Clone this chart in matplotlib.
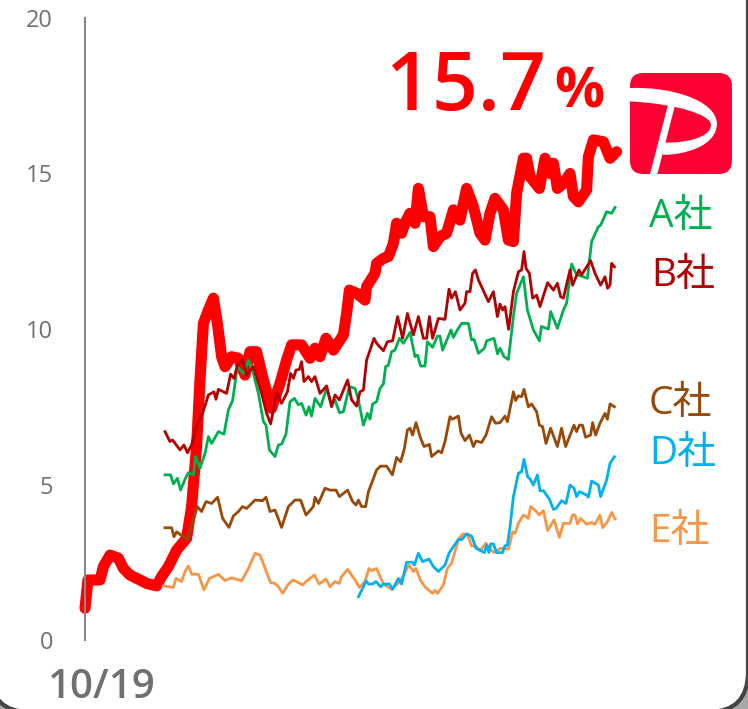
# share_chart.py
import matplotlib.pyplot as plt
from matplotlib.patches import FancyBboxPatch, PathPatch, Polygon
from matplotlib.path import Path

red_days = [0, 1.5, 7.5, 9.2, 12.5, 16.7, 19.2, 22.5, 27.5, 30.8, 35.8, 38.3, 41.7, 45.8, 50.8, 53.3, 55.8, 57.5, 59.2,
            61.7, 64.2, 66.2, 68.3, 70, 73.3, 76.7, 80, 82.5, 85.8, 89.2, 93.3, 95.8, 97.5, 100.8, 103.3, 108.3, 112.5,
            115, 117.5, 120.5, 124.2, 129.2, 130.8, 132.2, 135.8, 140, 140.8, 145, 145.8, 149.2, 151.7, 154.2, 155.8,
            158.3, 160, 162.5, 165, 166.7, 169.2, 172.5, 174.2, 177.5, 180.8, 184.2, 187.5, 190.8, 194.2, 197.5, 200,
            202.5, 205, 209.2, 211.7, 214.2, 215.8, 219.2, 220.8, 222.5, 227.2, 230, 232.5, 234.2, 236.2, 239.2, 242.5,
            244.2, 246.7, 250.8, 251.7, 254.2, 259.2, 262.5, 265.8]
red_vals = [1.02, 1.93, 1.93, 2.36, 2.73, 2.63, 2.30, 2.09, 1.93, 1.82, 1.74, 2.04, 2.36, 2.89, 3.27, 4.29, 6.22, 8.36, 10.18,
            10.61, 10.99, 10.18, 9.11, 8.79, 9.11, 9.06, 8.52, 9.27, 9.27, 8.36, 7.45, 7.93, 8.25, 9.0, 9.49, 9.49, 9.06,
            9.38, 9.11, 9.7, 9.32, 9.81, 10.5, 11.25, 11.15, 10.93, 11.36, 11.79, 12.11, 12.27, 12.33, 12.75, 13.4,
            13.08, 13.4, 13.72, 13.4, 14.52, 13.61, 13.61, 12.65, 12.97, 13.08, 13.83, 13.5, 14.52, 13.93, 13.08, 12.86,
            13.72, 14.2, 13.83, 12.86, 12.81, 14.36, 15.49, 15.49, 14.9, 14.52, 15.49, 15.0, 15.33, 14.52, 14.68, 15.0,
            14.26, 14.09, 14.47, 15.54, 16.08, 16.02, 15.49, 15.7]

a_days = [40, 42.8, 44.2, 46.2, 47.8, 50, 51.7, 54.2, 55.3, 57.5, 60, 61.7, 63.3, 66.7, 69.5, 71.7, 73.8, 76.2, 79.2, 81.7,
          84.2, 86.7, 89.2, 90.5, 92.2, 95, 96.7, 98.3, 100.5, 102.5, 104.7, 106.7, 108.3, 110.5, 112, 113.3, 115, 117.8,
          120.8, 123.3, 125, 127.2, 129.2, 132.2, 135, 136.7, 139.2, 141.2, 142.5, 143.8, 145.8, 147.5, 149.2, 150.3,
          151.7, 153.3, 155, 157.2, 159.2, 162.5, 165, 166.3, 167.8, 170, 171.2, 173.8, 176.2, 177.5, 178.8, 183, 184.2,
          186.2, 188.3, 191.7, 193.3, 194.5, 196.7, 199.7, 200.8, 204.5, 206.3, 207.5, 209.5, 211.7, 214.2, 215.8, 219.2,
          221.2, 224.2, 227.2, 228.2, 231.7, 232.8, 236.2, 239.2, 240.8, 243.3, 245.8, 248.3, 251.2, 253.3, 256.7, 257.8,
          260.8, 263.3, 265]
a_vals = [5.31, 5.31, 5.02, 5.2, 4.82, 5.17, 5.38, 5.31, 5.9, 5.52, 6.0, 6.54, 6.32, 6.7, 6.62, 7.4, 7.7, 8.79, 8.57, 9.0,
          8.57, 7.93, 7.02, 6.91, 6.11, 5.9, 6.27, 6.3, 6.62, 7.66, 7.77, 7.56, 7.61, 7.23, 7.5, 7.2, 7.77, 7.5,
          8.09, 7.56, 7.72, 7.31, 7.34, 8.15, 8.09, 7.72, 6.91, 7.29, 7.1, 7.59, 7.66, 8.09, 8.23, 8.79,
          8.84, 9.27, 9.32, 9.7, 9.54, 9.89, 9.11, 9.16, 8.81, 8.81, 9.59, 9.41, 9.77, 9.77, 9.32, 9.97, 9.73,
          9.97, 10.18, 10.18, 9.65, 9.67, 9.22, 9.38, 9.62, 9.7, 9.2, 9.38, 9.11, 9.02, 10.4, 11.15, 11.68,
          10.61, 9.97, 9.62, 10.08, 10.0, 10.56, 10.02, 10.61, 10.83, 12.09, 11.74, 11.7, 11.63, 12.81, 13.29, 13.34,
          13.77, 13.72, 13.91]

b_days = [40, 42.5, 43.8, 47.5, 49.5, 51.2, 53.3, 55.8, 58.8, 61.7, 64.5, 65.5, 66.7, 70.8, 72.8, 74.5, 76.2, 78.8, 80.8,
          84.2, 88.3, 90.8, 92.8, 94.2, 95.8, 98.3, 101.2, 102.8, 104.2, 105.5, 107.2, 108.3, 109.5, 111.7, 113.3, 115,
          117.5, 120.8, 123.3, 125, 127.2, 131.3, 133.3, 135.8, 137.5, 139.2, 140.8, 142.5, 144.5, 145.8, 149.2, 151.2,
          153.8, 156.3, 158.8, 161.2, 164.2, 166.7, 169.2, 170.8, 172.2, 173.8, 176.7, 180, 182, 183.3, 185.2, 187.5,
          190, 190.8, 192.5, 193.8, 195.2, 196.7, 201.7, 204.2, 206.2, 207.5, 208.8, 210, 211.8, 214.2, 216.7, 218.3,
          219.5, 220.5, 222.2, 223.8, 225.8, 227.5, 231.3, 234.2, 236.2, 237.8, 239.2, 242.5, 243.8, 247, 248.3, 252.8,
          255, 257.8, 260, 261.3, 262.5, 263.3, 264.7]
b_vals = [6.7, 6.38, 6.43, 6.11, 6.27, 6.02, 6.27, 6.91, 7.29, 7.88, 7.98, 7.74, 8.06, 7.93, 8.55, 8.41, 8.84, 9.0, 8.52,
          8.79, 7.93, 7.29, 6.95, 7.4, 7.98, 7.61, 7.98, 8.57, 8.41, 8.68, 8.7, 8.95, 8.31, 8.47, 8.31, 8.47,
          7.93, 8.17, 7.5, 7.88, 7.72, 8.36, 7.72, 7.52, 7.98, 8.04, 9.0, 9.32, 9.7, 9.54, 9.3, 9.59,
          9.62, 10.4, 9.7, 10.5, 9.81, 10.4, 9.7, 9.7, 10.4, 9.7, 10.34, 10.31, 11.28, 10.99, 11.2, 10.61,
          10.83, 11.2, 11.2, 11.79, 11.9, 11.58, 10.88, 11.2, 10.4, 10.8, 10.61, 10.72, 9.99, 11.2, 11.84, 11.9,
          12.49, 11.95, 11.79, 10.99, 11.09, 10.72, 11.49, 11.25, 11.47, 11.04, 10.99, 11.9, 11.41, 11.9, 11.74, 12.2,
          11.79, 11.41, 11.68, 11.31, 11.41, 12.11, 12.0]

c_days = [40, 43.3, 44.5, 45.8, 51.2, 53.3, 56.2, 58.3, 60.5, 63.3, 66.3, 68.8, 72, 74.2, 76.7, 78.7, 80.8, 85, 88.8, 90.5,
          92.5, 95, 98.3, 101.7, 105, 107.8, 110.5, 114.2, 115, 116.7, 120, 122.5, 125.5, 127.2, 131.3, 133.8, 135.5,
          136.7, 138.3, 140.3, 141.7, 143.8, 145.8, 147.8, 150.8, 153.7, 155.8, 157.8, 159.7, 161.2, 162.5, 163.8, 165.5,
          167.5, 169.5, 172.2, 173.3, 176.7, 178.3, 180, 182.5, 183.7, 186.7, 188, 190, 192.2, 194.2, 195.5, 198.3, 200.5,
          203.3, 205.3, 207.5, 210, 211.2, 214.2, 215.3, 216.7, 218.3, 219.5, 221.7, 223.3, 225.8, 227.2, 228.8, 230.5,
          232.8, 236.2, 238.3, 240.3, 244.5, 245.8, 247.2, 248.7, 250.3, 252.8, 253.8, 255.3, 257.5, 260, 261.2, 262.5,
          264.7]
c_vals = [3.61, 3.61, 3.32, 3.48, 3.22, 3.67, 4.29, 4.13, 4.45, 4.39, 4.59, 3.91, 3.62, 3.99, 4.13, 4.29, 4.23, 4.5, 4.48, 4.59,
          4.13, 4.18, 3.62, 4.29, 4.5, 4.5, 4.02, 4.29, 4.59, 4.39, 4.88, 4.82, 4.82, 4.61, 4.82, 4.45, 4.34,
          4.5, 4.29, 4.29, 4.77, 5.12, 5.47, 5.59, 5.59, 5.31, 5.87, 5.73, 6.16, 6.75, 6.81, 6.59, 6.99,
          6.54, 6.22, 6.29, 5.9, 6.08, 6.02, 6.38, 7.18, 7.1, 7.2, 6.65, 6.41, 6.59, 6.22, 6.4, 6.35, 6.59,
          7.18, 6.97, 6.99, 7.2, 7.02, 7.98, 7.7, 7.85, 7.82, 8.06, 7.5, 7.59, 7.34, 6.91, 6.86, 6.32,
          6.81, 6.22, 6.81, 6.22, 6.91, 6.7, 6.91, 6.91, 6.52, 6.59, 6.99, 6.59, 6.97, 7.29, 7.1, 7.59,
          7.5]

d_days = [136.7, 138.8, 140.5, 141.7, 143.8, 145.5, 147.8, 149.2, 152.2, 153.8, 156.7, 158.3, 160.8, 163.7, 164.7, 166.7,
          168.8, 172, 174.2, 176.7, 180, 182, 186.7, 188.3, 190.8, 193.3, 195.5, 197.5, 199.7, 200.8, 202, 202.8, 204.2,
          205.8, 208.7, 210, 211.2, 212.5, 214.2, 216.7, 218.3, 219.5, 221.3, 222.5, 224.2, 226.2, 227.5, 229.2, 232.2,
          234.2, 235.5, 238.3, 240.5, 242.5, 244.5, 245.8, 247.2, 250.8, 251.7, 253.3, 256.7, 257.8, 260.8, 262.5, 264.7]
d_vals = [1.39, 1.66, 1.9, 1.8, 1.8, 1.88, 1.71, 1.8, 1.8, 1.63, 1.98, 1.8, 2.5, 2.5, 2.41, 2.79,
          2.52, 2.6, 2.36, 2.2, 2.41, 2.79, 3.24, 3.22, 3.41, 3.34, 2.95, 2.89, 2.81, 3.05, 2.81, 3.09, 3.09,
          2.81, 2.81, 3.03, 3.05, 3.64, 4.61, 5.36, 5.41, 5.81, 5.25, 5.18, 4.98, 5.31, 4.8, 4.8, 4.53,
          4.2, 4.23, 4.48, 4.39, 4.98, 4.88, 4.61, 4.77, 4.66, 4.59, 5.11, 4.98, 4.61, 5.14, 5.68, 5.89]

e_days = [39.2, 44.2, 45.5, 48.3, 50, 51.7, 53.3, 56.7, 59.5, 62.2, 66.7, 70, 73.3, 78.3, 81.7, 85, 87.5, 92.8, 95, 96.7, 98.8,
          101.7, 104.2, 108.8, 110.5, 114.7, 117, 120.5, 122.5, 125, 127.2, 128.3, 131.3, 135, 137.2, 140, 142, 143.3,
          145.8, 149.2, 153.3, 157.5, 162, 164.2, 165.5, 167.8, 170, 173.7, 175, 176.3, 179.2, 181.2, 183.3, 186.7, 188.8,
          191.2, 193.3, 195.5, 197.5, 200.5, 202.2, 204.5, 207.8, 211.7, 213.8, 215, 216.7, 219.2, 221.7, 222.8, 225.3,
          227.2, 229.2, 231.3, 234.5, 237.2, 239.2, 242.5, 243.7, 245, 246.3, 247.8, 250.8, 253.3, 255, 257.5, 258.8,
          261.2, 263.3, 265]
e_vals = [1.74, 1.69, 1.98, 1.88, 2.2, 2.38, 2.12, 2.11, 1.61, 1.98, 2.11, 1.91, 2.0, 1.9, 2.3, 2.79, 2.73, 1.84, 1.82, 1.71, 1.5,
          1.8, 1.93, 1.77, 1.88, 2.09, 1.8, 1.96, 1.71, 1.88, 1.82, 2.04, 2.27, 1.93, 1.69, 1.88, 2.3, 2.23,
          2.3, 1.8, 1.63, 1.88, 2.41, 2.2, 2.3, 1.91, 1.71, 1.5, 1.59, 1.5, 1.77, 2.3, 2.47, 3.22, 3.41,
          3.4, 3.02, 3.02, 2.87, 3.11, 2.95, 2.81, 2.95, 2.92, 3.48, 3.43, 3.75, 4.02, 3.91, 4.29, 4.16,
          4.02, 4.16, 3.52, 3.86, 3.3, 3.75, 3.75, 4.02, 4.02, 3.73, 3.91, 3.72, 3.78, 3.72, 4.02, 3.61,
          3.8, 4.1, 3.89]

y_ticks = [0, 5, 10, 15, 20]
x_label = "10/19"
big_value = "15.7"
company_labels = ["A社", "B社", "C社", "D社", "E社"]

RED = "#ff0000"
GREEN = "#00b050"
DARK_RED = "#b30000"
BROWN = "#984807"
BLUE = "#00b0f0"
ORANGE = "#f79646"

W, H = 748, 709
plt.rcParams["font.family"] = ["Open Sans", "Noto Sans CJK JP", "DejaVu Sans"]
fig = plt.figure(figsize=(W / 100, H / 100), dpi=100, facecolor="#a8a8a8")

# rounded white card behind everything
bg = fig.add_axes([0, 0, 1, 1], zorder=0)
bg.set_xlim(0, W)
bg.set_ylim(H, 0)
bg.axis("off")
bg.add_patch(FancyBboxPatch((-10, -60), W + 10, H + 63, boxstyle="round,pad=0,rounding_size=40",
                            fc="white", ec="#444444", lw=3))

# main chart: day 0 at x=85px, 2px per day
ax = fig.add_axes([85 / W, (H - 640) / H, 548 / W, 622 / H], zorder=1)
ax.patch.set_alpha(0)
ax.set_xlim(0, 274)
ax.set_ylim(0, 20)
for side in ["top", "right", "bottom"]:
    ax.spines[side].set_visible(False)
ax.spines["left"].set_color("#888888")
ax.spines["left"].set_linewidth(1.5)
ax.set_xticks([])
ax.set_yticks(y_ticks)
ax.tick_params(axis="y", length=0, pad=23, labelsize=17, labelcolor="#707070")

ax.plot(red_days, red_vals, color=RED, lw=8, solid_capstyle="round", solid_joinstyle="round", clip_on=False)
ax.plot(e_days, e_vals, color=ORANGE, lw=2, clip_on=False)
ax.plot(c_days, c_vals, color=BROWN, lw=2, clip_on=False)
ax.plot(a_days, a_vals, color=GREEN, lw=2, clip_on=False)
ax.plot(b_days, b_vals, color=DARK_RED, lw=2, clip_on=False)
ax.plot(d_days, d_vals, color=BLUE, lw=2, clip_on=False)

label_colors = [GREEN, DARK_RED, BROWN, BLUE, ORANGE]
label_y = [217, 276, 404, 454, 532]
label_x = [649, 651, 649, 649, 649]
for txt, col, x, y in zip(company_labels, label_colors, label_x, label_y):
    bg.text(x, y, txt, color=col, fontsize=28, ha="left", va="center")

bg.text(48, 688, x_label, color="#707070", fontsize=29, weight="semibold", ha="left", va="center")
bg.text(386, 89, big_value, color=RED, fontsize=58, weight="semibold", ha="left", va="center")
bg.text(554, 93, "%", color=RED, fontsize=40, weight="bold", ha="left", va="center")

# PayPay style logo
logo = fig.add_axes([630 / W, (H - 174) / H, 102 / W, 101 / H], zorder=2)
logo.set_xlim(30, 335)
logo.set_ylim(342, 40)
logo.axis("off")
logo_bg = FancyBboxPatch((30, 40), 305, 302, boxstyle="round,pad=0,rounding_size=40", fc="#ff0033", ec="none")
logo.add_patch(logo_bg)
band = Path(
    [(30, 85), (150, 80), (285, 120), (290, 190), (290, 260), (190, 285), (128, 285), (130, 248),
     (190, 250), (272, 235), (272, 195), (272, 165), (170, 132), (30, 125), (30, 85)],
    [Path.MOVETO, Path.CURVE4, Path.CURVE4, Path.CURVE4, Path.CURVE4, Path.CURVE4, Path.CURVE4, Path.LINETO,
     Path.CURVE4, Path.CURVE4, Path.CURVE4, Path.CURVE4, Path.CURVE4, Path.CURVE4, Path.CLOSEPOLY])
logo.add_patch(PathPatch(band, fc="white", ec="none"))
logo.add_patch(Polygon([(145, 130), (165, 135), (112, 342), (90, 342)], fc="white", ec="none"))

fig.savefig("out.png", dpi=100, facecolor=fig.get_facecolor())
